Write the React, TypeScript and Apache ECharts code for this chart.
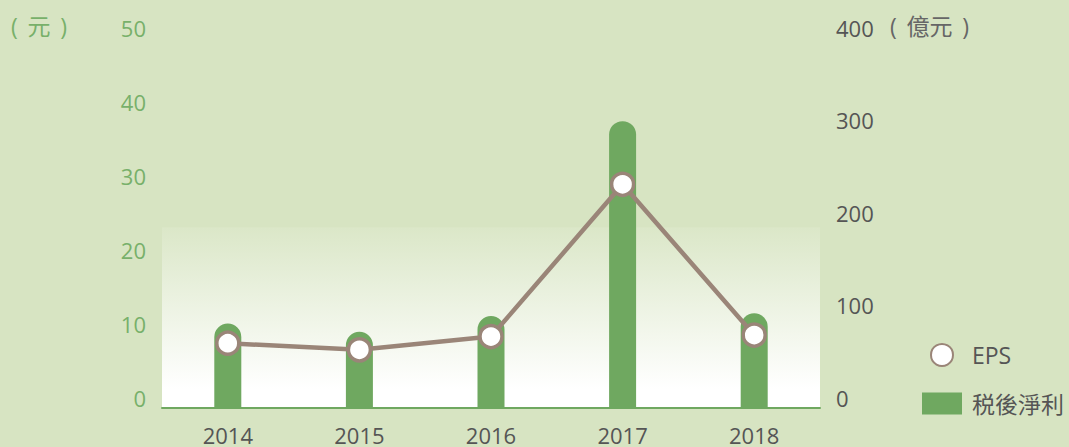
import React, { useEffect, useRef } from "react";
import * as echarts from "echarts";

const years = ["2014", "2015", "2016", "2017", "2018"];
const eps = [8.7, 7.8, 9.6, 30.2, 9.8];
const netProfit = [91, 82, 99, 310, 102];
const leftTicks = { min: 0, max: 50, interval: 10 };
const rightTicks = { min: 0, max: 400, interval: 100 };

const BG = "#d7e4c2";
const GREEN = "#6fa860";
const LABEL_GREEN = "#78b06a";
const BROWN = "#9a8578";
const GRAY = "#555555";
const FONT = "'Open Sans', 'Noto Sans CJK TC', sans-serif";

export default function App() {
  const ref = useRef<HTMLDivElement>(null);
  useEffect(() => {
    if (!ref.current) return;
    const chart = echarts.init(ref.current, undefined, { renderer: "svg" });
    const gTop = 38;
    const gBottom = 39.5;
    const gHeight = 447 - gTop - gBottom;
    const edge = (227 - gTop) / gHeight;
    chart.setOption({
      animation: false,
      backgroundColor: BG,
      textStyle: { fontFamily: FONT },
      grid: {
        left: 162,
        right: 249,
        top: gTop,
        bottom: gBottom,
        show: true,
        borderWidth: 0,
        backgroundColor: new echarts.graphic.LinearGradient(0, 0, 0, 1, [
          { offset: 0, color: BG },
          { offset: edge, color: BG },
          { offset: edge + 0.002, color: "#dbe7c8" },
          { offset: 0.95, color: "#ffffff" },
          { offset: 1, color: "#ffffff" },
        ]),
      },
      legend: {
        orient: "vertical",
        left: 917,
        top: 338,
        itemWidth: 40,
        itemHeight: 22,
        itemGap: 25,
        textStyle: { color: GRAY, fontSize: 23, fontFamily: FONT, padding: [0, 0, 0, 5] },
        data: [
          { name: "EPS", icon: "circle" },
          { name: "税後淨利", icon: "rect" },
        ],
      },
      xAxis: {
        type: "category",
        data: years,
        axisLine: { lineStyle: { color: GREEN, width: 2 } },
        axisTick: { show: false },
        axisLabel: { color: GRAY, fontSize: 22, margin: 16, fontFamily: FONT },
      },
      yAxis: [
        {
          type: "value",
          ...leftTicks,
          position: "left",
          splitLine: { show: false },
          axisLine: { show: false },
          axisTick: { show: false },
          axisLabel: {
            color: LABEL_GREEN,
            fontSize: 22,
            margin: 16,
            verticalAlign: "bottom",
            lineHeight: 20,
            fontFamily: FONT,
          },
        },
        {
          type: "value",
          ...rightTicks,
          position: "right",
          splitLine: { show: false },
          axisLine: { show: false },
          axisTick: { show: false },
          axisLabel: {
            color: GRAY,
            fontSize: 22,
            margin: 16,
            verticalAlign: "bottom",
            lineHeight: 20,
            fontFamily: FONT,
          },
        },
      ],
      series: [
        {
          name: "税後淨利",
          type: "bar",
          yAxisIndex: 1,
          data: netProfit,
          barWidth: 27,
          z: 2,
          itemStyle: { color: GREEN, borderRadius: [13.5, 13.5, 0, 0] },
        },
        {
          name: "EPS",
          type: "line",
          yAxisIndex: 0,
          data: eps,
          z: 3,
          symbol: "circle",
          symbolSize: 22,
          lineStyle: { color: BROWN, width: 4.5 },
          itemStyle: { color: "#ffffff", borderColor: BROWN, borderWidth: 3.5 },
        },
      ],
      graphic: [
        {
          type: "text",
          left: 11,
          top: 14,
          style: { text: "( \u2009元\u2009 )", fill: LABEL_GREEN, font: `23px ${FONT}` },
        },
        {
          type: "text",
          left: 890,
          top: 14,
          style: { text: "( \u2009億元\u2009 )", fill: "#666666", font: `23px ${FONT}` },
        },
      ],
    });
    return () => chart.dispose();
  }, []);
  return (
    <div
      ref={ref}
      style={{ position: "absolute", left: 0, top: 0, width: 1069, height: 447 }}
    />
  );
}
